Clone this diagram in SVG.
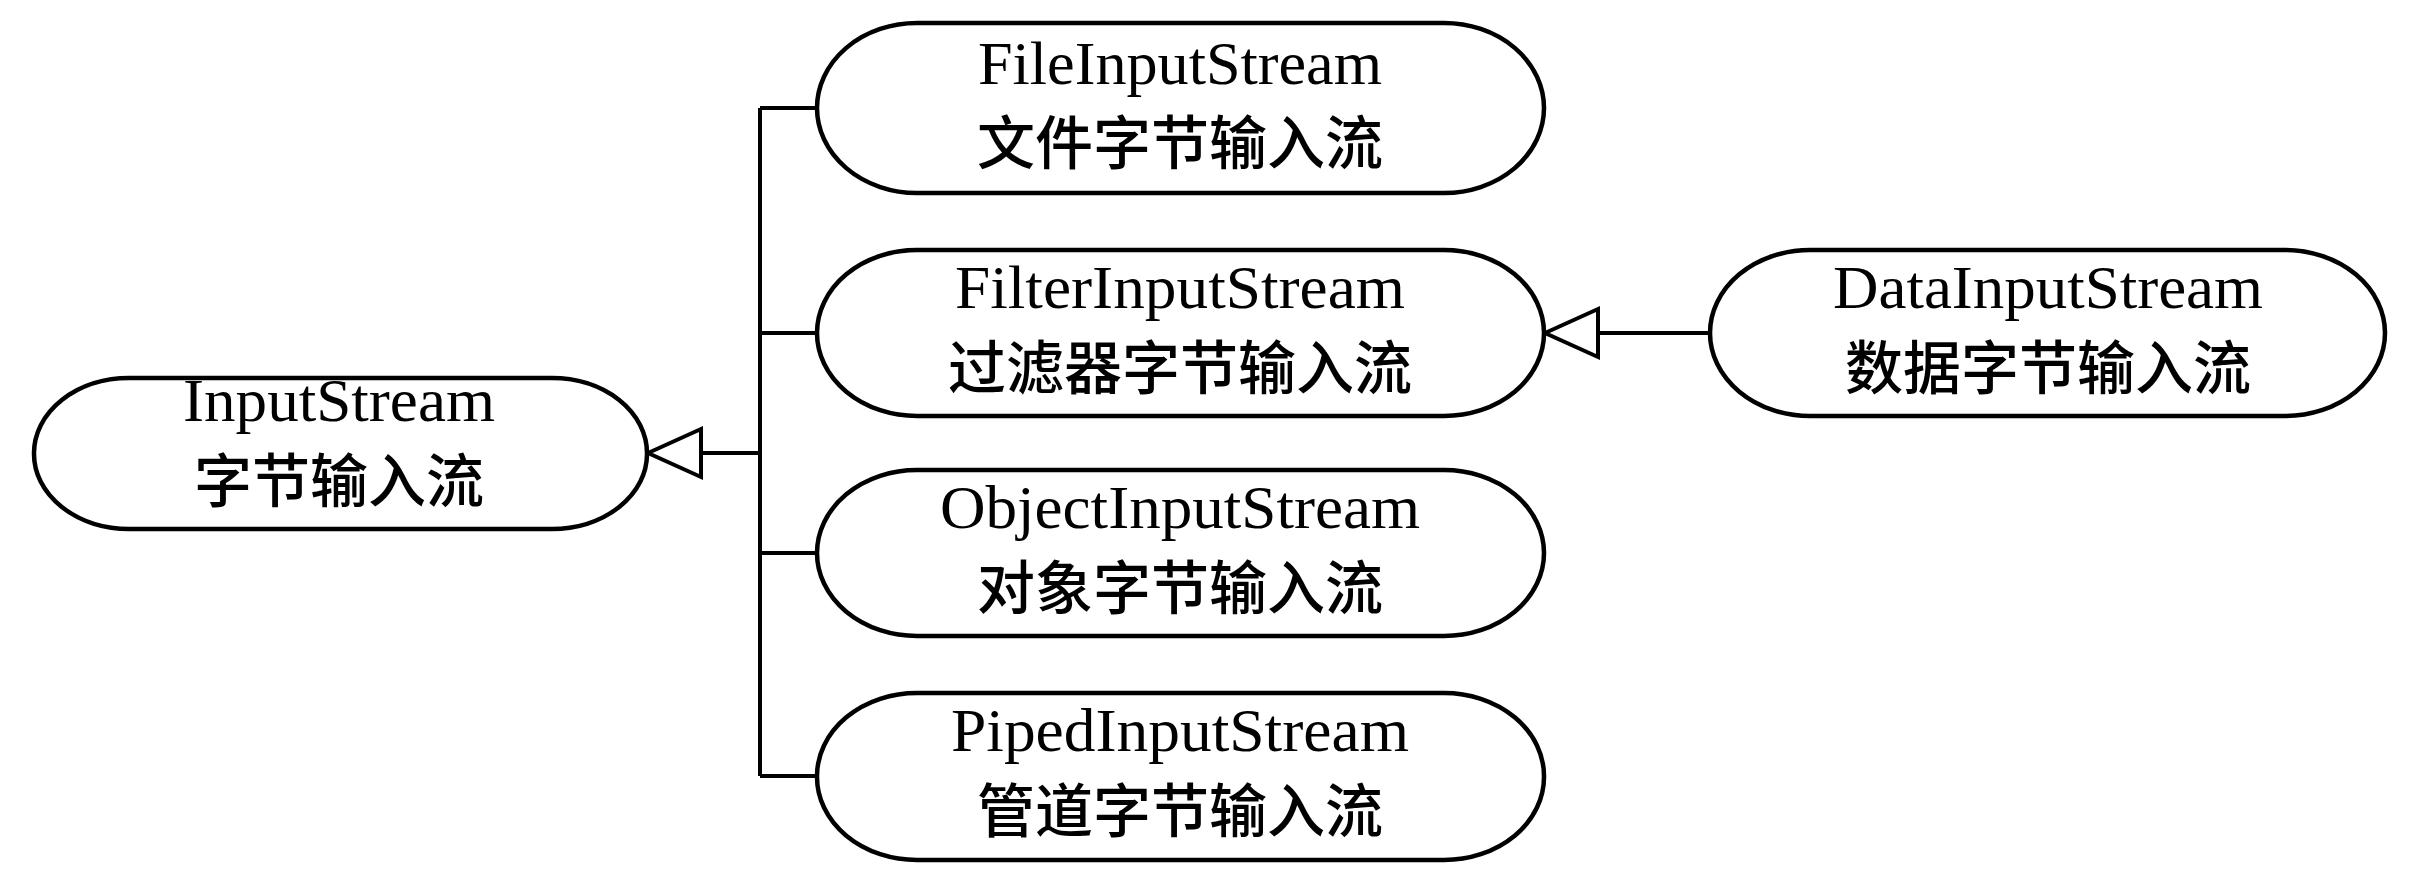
<svg xmlns="http://www.w3.org/2000/svg" width="2416" height="892" viewBox="0 0 2416 892">
<style>
.n{fill:#fff;stroke:#000;stroke-width:4.5}
.e{font-family:"Liberation Serif",serif;font-size:62px;text-anchor:middle}
.c{font-family:"Noto Sans CJK SC",sans-serif;font-size:58px;font-weight:500;text-anchor:middle}
.l{fill:none;stroke:#000;stroke-width:4}
.a{fill:#fff;stroke:#000;stroke-width:4}
</style>
<rect width="2416" height="892" fill="#fff"/>
<g id="connectors">
<path class="l" d="M701 453H760M760 108V776M760 108H817M760 333H817M760 553H817M760 776H817"/>
<polygon class="a" points="648,453 701,429 701,477"/>
<path class="l" d="M1598 333H1710"/>
<polygon class="a" points="1545,333 1598,309 1598,357"/>
</g>
<g id="InputStream"><rect class="n" x="34" y="378" width="613" height="151" rx="95" ry="75"/>
<text class="e" x="339" y="421" textLength="312" lengthAdjust="spacingAndGlyphs">InputStream</text><text class="c" x="339" y="502">字节输入流</text></g>
<g id="FileInputStream"><rect class="n" x="817" y="23" width="727" height="170" rx="100" ry="85"/>
<text class="e" x="1180" y="84" textLength="404" lengthAdjust="spacingAndGlyphs">FileInputStream</text><text class="c" x="1180" y="164">文件字节输入流</text></g>
<g id="FilterInputStream"><rect class="n" x="817" y="250" width="727" height="166" rx="100" ry="83"/>
<text class="e" x="1180" y="308" textLength="450" lengthAdjust="spacingAndGlyphs">FilterInputStream</text><text class="c" x="1180" y="389">过滤器字节输入流</text></g>
<g id="ObjectInputStream"><rect class="n" x="817" y="470" width="727" height="166" rx="100" ry="83"/>
<text class="e" x="1180" y="528" textLength="480" lengthAdjust="spacingAndGlyphs">ObjectInputStream</text><text class="c" x="1180" y="609">对象字节输入流</text></g>
<g id="PipedInputStream"><rect class="n" x="817" y="693" width="727" height="167" rx="100" ry="83"/>
<text class="e" x="1180" y="751" textLength="458" lengthAdjust="spacingAndGlyphs">PipedInputStream</text><text class="c" x="1180" y="832">管道字节输入流</text></g>
<g id="DataInputStream"><rect class="n" x="1710" y="250" width="675" height="166" rx="100" ry="83"/>
<text class="e" x="2048" y="308" textLength="430" lengthAdjust="spacingAndGlyphs">DataInputStream</text><text class="c" x="2048" y="389">数据字节输入流</text></g>
</svg>
